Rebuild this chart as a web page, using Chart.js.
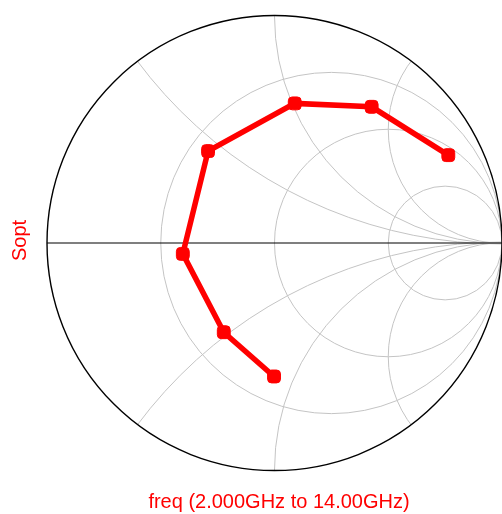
<!DOCTYPE html>
<html>
<head>
<meta charset="utf-8">
<title>Sopt Smith chart</title>
<script src="https://cdn.jsdelivr.net/npm/chart.js@4/dist/chart.umd.min.js"></script>
<style>
  html, body { margin: 0; padding: 0; background: #fff; overflow: hidden; }
  canvas { display: block; }
</style>
</head>
<body>
<canvas id="smith" width="502" height="514"></canvas>
<script>
// Sopt vs frequency (re, im)
const freqGHz = [2, 4, 6, 8, 10, 12, 14];
const gammaRe = [-0.002, -0.223, -0.403, -0.292, 0.089, 0.427, 0.764];
const gammaIm = [-0.588, -0.393, -0.048, 0.405, 0.615, 0.600, 0.387];

// Smith grid: constant resistance circles and constant reactance arcs
const resistanceCircles = [1 / 3, 1, 3];
const reactanceArcs = [0.5, 1, 2];

const yAxisTitle = 'Sopt';
const xAxisTitle = 'freq (2.000GHz to 14.00GHz)';

const points = freqGHz.map((f, i) => ({ x: gammaRe[i], y: gammaIm[i] }));

// draws the smith grid behind the trace, using the chart scales
const smithGrid = {
    id: 'smithGrid',
    beforeDatasetsDraw(chart) {
        const ctx = chart.ctx;
        const xs = chart.scales.x, ys = chart.scales.y;
        const px = v => xs.getPixelForValue(v);
        const py = v => ys.getPixelForValue(v);
        const unit = px(1) - px(0);
        const cx = px(0), cy = py(0);

        ctx.save();
        ctx.beginPath();
        ctx.arc(cx, cy, unit, 0, Math.PI * 2);
        ctx.clip();

        ctx.strokeStyle = '#c4c4c4';
        ctx.lineWidth = 1;
        resistanceCircles.forEach(r => {
            const c = r / (1 + r), rad = 1 / (1 + r);
            ctx.beginPath();
            ctx.arc(px(c), py(0), rad * unit, 0, Math.PI * 2);
            ctx.stroke();
        });
        reactanceArcs.forEach(x => {
            [1, -1].forEach(s => {
                ctx.beginPath();
                ctx.arc(px(1), py(s / x), (1 / x) * unit, 0, Math.PI * 2);
                ctx.stroke();
            });
        });
        ctx.restore();

        ctx.save();
        ctx.strokeStyle = '#000';
        ctx.lineWidth = 1.2;
        ctx.beginPath();
        ctx.moveTo(px(-1), cy);
        ctx.lineTo(px(1), cy);
        ctx.stroke();
        ctx.lineWidth = 1.4;
        ctx.beginPath();
        ctx.arc(cx, cy, unit, 0, Math.PI * 2);
        ctx.stroke();
        ctx.restore();
    },
    afterDraw(chart) {
        const ctx = chart.ctx;
        ctx.save();
        ctx.fillStyle = '#ff0000';
        ctx.font = '20px "Liberation Sans", Arial, sans-serif';
        ctx.textAlign = 'center';
        ctx.textBaseline = 'alphabetic';
        ctx.fillText(xAxisTitle, 279, 508);
        ctx.translate(26, 240.5);
        ctx.rotate(-Math.PI / 2);
        ctx.fillText(yAxisTitle, 0, 0);
        ctx.restore();
    }
};

new Chart(document.getElementById('smith'), {
    type: 'scatter',
    data: {
        datasets: [{
            label: 'Sopt',
            data: points,
            showLine: true,
            borderColor: '#ff0000',
            backgroundColor: '#ff0000',
            borderWidth: 5.5,
            pointStyle: 'rectRounded',
            pointRadius: 7.5,
            pointHoverRadius: 7.5,
            pointBorderWidth: 1,
            clip: false
        }]
    },
    options: {
        responsive: false,
        animation: false,
        devicePixelRatio: 1,
        layout: { autoPadding: false, padding: { left: 47, right: 0, top: 16, bottom: 44 } },
        scales: {
            x: { type: 'linear', min: -1, max: 1, display: false },
            y: { type: 'linear', min: -1, max: 1, display: false }
        },
        plugins: {
            legend: { display: false },
            tooltip: { enabled: false }
        }
    },
    plugins: [smithGrid]
});
</script>
</body>
</html>
